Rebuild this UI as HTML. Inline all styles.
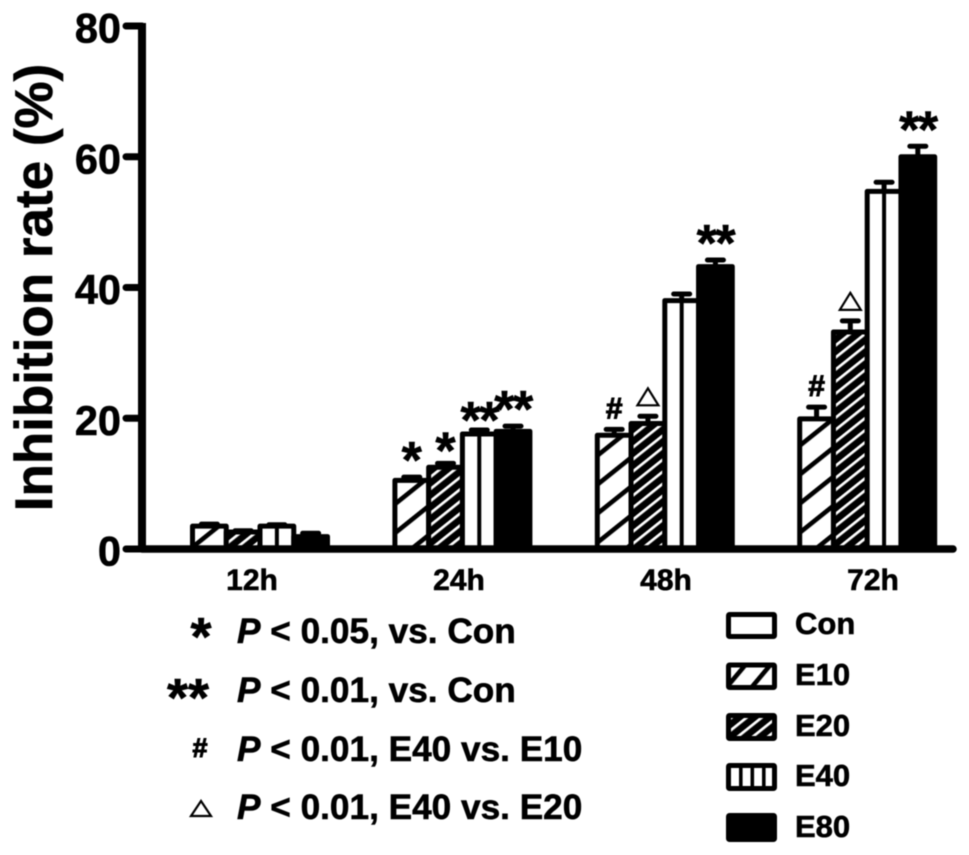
<!DOCTYPE html>
<html lang="en">
<head>
<meta charset="utf-8">
<title>Inhibition rate chart</title>
<style>
html,body{margin:0;padding:0;background:#fff;width:969px;height:855px;overflow:hidden}
svg{display:block;filter:blur(0.4px)}
text{font-family:"Liberation Sans",Arial,sans-serif;font-weight:bold;fill:#000;stroke:#000;stroke-width:0.6px}
</style>
</head>
<body>
<svg id="chart" xmlns="http://www.w3.org/2000/svg" width="969" height="855" viewBox="0 0 969 855">
  <defs>
    <pattern id="wide-hatch-0" patternUnits="userSpaceOnUse" width="22.65" height="22.65" patternTransform="rotate(51.34) translate(1.6 0)">
      <rect width="22.65" height="22.65" fill="#fff"/>
      <rect x="0" y="0" width="4.6" height="22.65" fill="#000"/>
    </pattern>
    <pattern id="wide-hatch-1" patternUnits="userSpaceOnUse" width="22.65" height="22.65" patternTransform="rotate(51.34) translate(3.87 0)">
      <rect width="22.65" height="22.65" fill="#fff"/>
      <rect x="0" y="0" width="4.6" height="22.65" fill="#000"/>
    </pattern>
    <pattern id="wide-hatch-2" patternUnits="userSpaceOnUse" width="22.65" height="22.65" patternTransform="rotate(51.34) translate(1.84 0)">
      <rect width="22.65" height="22.65" fill="#fff"/>
      <rect x="0" y="0" width="4.6" height="22.65" fill="#000"/>
    </pattern>
    <pattern id="wide-hatch-3" patternUnits="userSpaceOnUse" width="22.65" height="22.65" patternTransform="rotate(51.34) translate(7.23 0)">
      <rect width="22.65" height="22.65" fill="#fff"/>
      <rect x="0" y="0" width="4.6" height="22.65" fill="#000"/>
    </pattern>
    <pattern id="legend-hatch" patternUnits="userSpaceOnUse" width="19.15" height="19.15" patternTransform="rotate(40) translate(0.3 0)">
      <rect width="19.15" height="19.15" fill="#fff"/>
      <rect x="0" y="0" width="4.6" height="19.15" fill="#000"/>
    </pattern>
    <pattern id="dense-hatch" patternUnits="userSpaceOnUse" width="9.4" height="9.4" patternTransform="rotate(51.34) translate(0.8 0)">
      <rect width="9.4" height="9.4" fill="#000"/>
      <rect x="0" y="0" width="2.7" height="9.4" fill="#fff"/>
    </pattern>
  </defs>
  <g id="bars"></g>
  <g id="annotations"></g>
  <g id="axes"></g>

  <text transform="translate(52 287.5) rotate(-90)" text-anchor="middle" font-size="53">Inhibition rate (%)</text>

  <g>
    <g>
      <text x="201" y="655" text-anchor="middle" font-size="54">*</text>
      <text x="237" y="643" font-size="35.2"><tspan font-style="italic">P</tspan> &lt; 0.05, vs. Con</text>
    </g>
    <g>
      <text x="188" y="716" text-anchor="middle" font-size="54">**</text>
      <text x="237" y="702" font-size="35.2"><tspan font-style="italic">P</tspan> &lt; 0.01, vs. Con</text>
    </g>
    <g>
      <text x="200" y="757" text-anchor="middle" font-size="27" style="stroke-width:1px">#</text>
      <text x="237" y="761" font-size="35.2"><tspan font-style="italic">P</tspan> &lt; 0.01, E40 vs. E10</text>
    </g>
    <g>
      <polygon points="201,801 211,816 191,816" fill="#fff" stroke="#000" stroke-width="2.2"/>
      <text x="237" y="819" font-size="35.2"><tspan font-style="italic">P</tspan> &lt; 0.01, E40 vs. E20</text>
    </g>
  </g>

  <g>
    <g>
      <rect x="728.5" y="614.5" width="46" height="22" rx="1" fill="#fff" stroke="#000" stroke-width="5" stroke-linejoin="round"/>
      <text x="795" y="634" font-size="31">Con</text>
    </g>
    <g>
      <rect x="728.5" y="665" width="46" height="22.5" rx="1" fill="url(#legend-hatch)" stroke="#000" stroke-width="5" stroke-linejoin="round"/>
      <text x="795" y="685" font-size="31">E10</text>
    </g>
    <g>
      <rect x="728.5" y="715.5" width="46" height="23" rx="1" fill="url(#dense-hatch)" stroke="#000" stroke-width="5" stroke-linejoin="round"/>
      <text x="795" y="736" font-size="31">E20</text>
    </g>
    <g>
      <rect x="728.5" y="765.5" width="46" height="23" rx="1" fill="#fff" stroke="#000" stroke-width="5" stroke-linejoin="round"/>
      <rect x="739" y="765" width="3.6" height="23" fill="#000"/>
      <rect x="750.5" y="765" width="3.6" height="23" fill="#000"/>
      <rect x="762" y="765" width="3.6" height="23" fill="#000"/>
      <text x="795" y="786" font-size="31">E40</text>
    </g>
    <g>
      <rect x="728.5" y="815.5" width="46" height="24" rx="1" fill="#000" stroke="#000" stroke-width="5" stroke-linejoin="round"/>
      <text x="795" y="837" font-size="31">E80</text>
    </g>
  </g>
</svg>
<script>
// ---- chart data ----
const categories = ['12h', '24h', '48h', '72h'];
const seriesNames = ['E10', 'E20', 'E40', 'E80'];
const valuesE10 = [3.5, 10.5, 17.4, 19.9];
const valuesE20 = [2.6, 12.5, 19.2, 33.2];
const valuesE40 = [3.5, 17.6, 38.0, 54.7];
const valuesE80 = [1.9, 18.0, 43.2, 60.0];
const errorTopE10 = [3.8, 11.0, 18.3, 21.7];
const errorTopE20 = [2.8, 13.1, 20.3, 34.9];
const errorTopE40 = [3.7, 18.2, 39.0, 56.1];
const errorTopE80 = [2.4, 18.8, 44.2, 61.6];
const markersE10 = ['', '*', '#', '#'];
const markersE20 = ['', '*', 'tri', 'tri'];
const markersE40 = ['', '**', '', ''];
const markersE80 = ['', '**', '**', '**'];
const yTicks = [0, 20, 40, 60, 80];

const seriesValues = [valuesE10, valuesE20, valuesE40, valuesE80];
const seriesErrors = [errorTopE10, errorTopE20, errorTopE40, errorTopE80];
const seriesMarkers = [markersE10, markersE20, markersE40, markersE80];

// ---- axis functions ----
function yScale(v) { return 549 - v * 6.5375; }
function groupLeft(i) { return 192.5 + i * 202.4; }
function barLeft(g, s) { return groupLeft(g) + s * 33.75; }
function barCentre(g, s) { return barLeft(g, s) + 33.75 / 2; }
function labelCentre(g) { return 252 + g * 207; }
function starGap(s) { return s === 0 ? 21 : s === 1 ? 17 : s === 2 ? 14 : 21; }

const NS = 'http://www.w3.org/2000/svg';
function make(tag, parent) {
  const el = document.createElementNS(NS, tag);
  parent.appendChild(el);
  return el;
}
function set(el, attrs) {
  Object.keys(attrs).forEach(function (k) { el.setAttribute(k, attrs[k]); });
  return el;
}

const barsLayer = document.getElementById('bars');
const markLayer = document.getElementById('annotations');
const axesLayer = document.getElementById('axes');

function fillFor(s, g) {
  if (s === 0) return 'url(#wide-hatch-' + g + ')';
  if (s === 1) return 'url(#dense-hatch)';
  return s === 2 ? '#fff' : '#000';
}

categories.forEach(function (cat, g) {
  seriesNames.forEach(function (name, s) {
    const v = seriesValues[s][g];
    const top = yScale(v);
    const x = barLeft(g, s);
    const cx = barCentre(g, s);

    const capTop = yScale(seriesErrors[s][g]);
    const stem = make('line', barsLayer);
    
    
    set(stem, { x1: cx, x2: cx, y1: top, y2: capTop, stroke: '#000', 'stroke-width': 5 });
    const cap = make('line', barsLayer);
    
    
    set(cap, { x1: cx - 8, x2: cx + 8, y1: capTop, y2: capTop, stroke: '#000', 'stroke-width': 5, 'stroke-linecap': 'round' });

    const bar = make('rect', barsLayer);
    
    
    set(bar, { x: x, y: top, width: 33.75, height: yScale(0) - top, fill: fillFor(s, g), stroke: '#000', 'stroke-width': 5, 'stroke-linejoin': 'round' });

    if (name === 'E40') {
      const divider = make('line', barsLayer);
      
      
      set(divider, { x1: cx, x2: cx, y1: top, y2: yScale(0), stroke: '#000', 'stroke-width': 4 });
    }

    const m = seriesMarkers[s][g];
    if (m === '*' || m === '**') {
      const star = make('text', markLayer);
      
      
      set(star, { x: cx, y: capTop - starGap(s) + 22, 'text-anchor': 'middle', 'font-size': 52, 'letter-spacing': m === '**' ? -1.5 : 0 });
      star.textContent = m;
    } else if (m === '#') {
      const hash = make('text', markLayer);
      
      
      set(hash, { x: cx, y: capTop - 11, 'text-anchor': 'middle', 'font-size': 30, style: 'stroke-width:1px' });
      hash.textContent = m;
    } else if (m === 'tri') {
      const tri = make('polygon', markLayer);
      
      
      const b = capTop - 11;
      set(tri, { points: (cx - 10.5) + ',' + b + ' ' + (cx + 10.5) + ',' + b + ' ' + cx + ',' + (b - 17), fill: '#fff', stroke: '#000', 'stroke-width': 2.2 });
    }
  });

  const label = make('text', axesLayer);
  
  
  set(label, { x: labelCentre(g), y: 590, 'text-anchor': 'middle', 'font-size': 30 });
  label.textContent = cat;
});

const xAxis = make('line', axesLayer);


set(xAxis, { x1: 142, x2: 953, y1: yScale(0), y2: yScale(0), stroke: '#000', 'stroke-width': 7.5, 'stroke-linecap': 'round' });

const yAxis = make('line', axesLayer);


set(yAxis, { x1: 142, x2: 142, y1: yScale(80) - 3, y2: yScale(0), stroke: '#000', 'stroke-width': 8 });

yTicks.forEach(function (t) {
  const tick = make('line', axesLayer);
  
  
  set(tick, { x1: 126, x2: 142, y1: yScale(t), y2: yScale(t), stroke: '#000', 'stroke-width': 7, 'stroke-linecap': 'round' });

  const label = make('text', axesLayer);
  
  
  set(label, { x: 121, y: yScale(t) + 16.5, 'text-anchor': 'end', 'font-size': 41.5 });
  label.textContent = String(t);
});
</script>
</body>
</html>
